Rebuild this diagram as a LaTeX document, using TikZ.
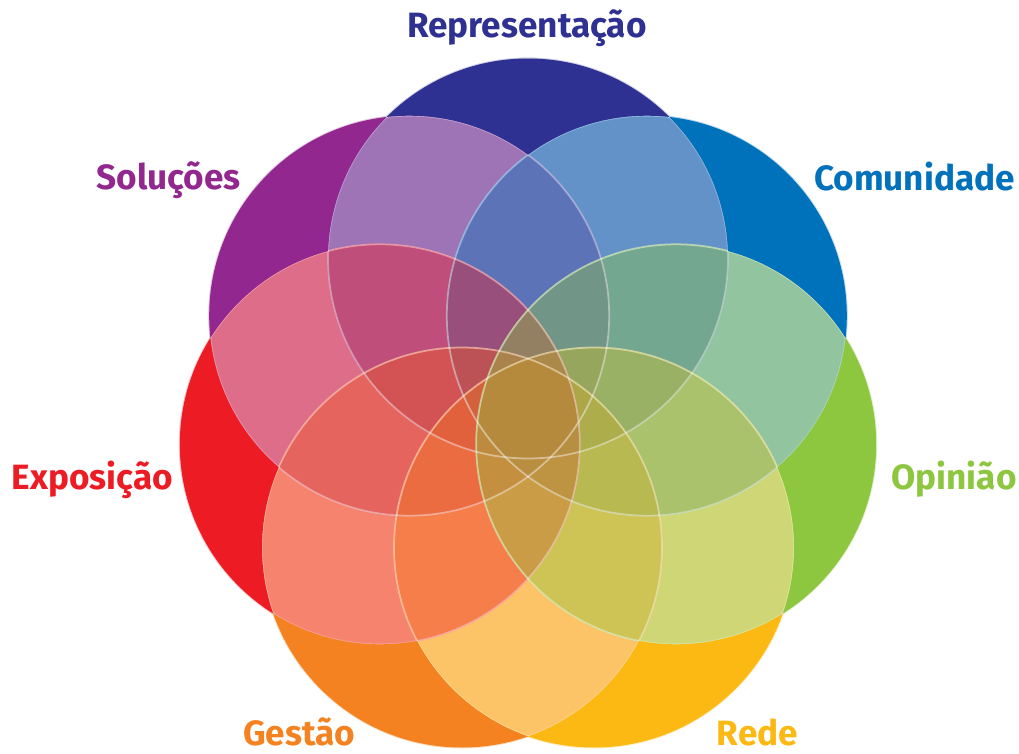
\documentclass[tikz,border=0pt]{standalone}
\usepackage{fontspec}
\setmainfont{Fira Sans}
\definecolor{c-rep}{HTML}{2E3192}
\definecolor{c-com}{HTML}{0072BC}
\definecolor{c-opi}{HTML}{8DC63F}
\definecolor{c-red}{HTML}{FDB913}
\definecolor{c-ges}{HTML}{F58220}
\definecolor{c-exp}{HTML}{ED1C24}
\definecolor{c-sol}{HTML}{92278F}

\begin{document}
\begin{tikzpicture}[x=0.02cm, y=-0.02cm]
\tikzset{cercle/.style={fill opacity=0.41, draw=white, draw opacity=0.45, line width=1pt},
  etiquette/.style={anchor=base, inner sep=0pt, font=\bfseries\fontsize{20}{22}\selectfont}}
\useasboundingbox (0,0) rectangle (1019,754);
\coordinate (rep) at (528,258.5);
\coordinate (com) at (646.8,315.7);
\coordinate (opi) at (676.2,444.3);
\coordinate (red) at (594.0,547.5);
\coordinate (ges) at (462.0,547.5);
\coordinate (exp) at (379.8,444.3);
\coordinate (sol) at (409.2,315.7);
% translucent discs, then their rims
\foreach \k in {rep,sol,com,ges,red,exp,opi}
  \fill[cercle, c-\k] (\k) circle [radius=200];
\foreach \k in {rep,sol,com,ges,red,exp,opi}
  \draw[cercle, fill opacity=0] (\k) circle [radius=200];
% outer petals in full colour
\foreach \k/\a/\b/\c/\d/\e/\f in {rep/com/opi/red/ges/exp/sol, com/opi/red/ges/exp/sol/rep,
    opi/red/ges/exp/sol/rep/com, red/ges/exp/sol/rep/com/opi, ges/exp/sol/rep/com/opi/red,
    exp/sol/rep/com/opi/red/ges, sol/rep/com/opi/red/ges/exp}{
  \begin{scope}[even odd rule]
    \foreach \j in {\a,\b,\c,\d,\e,\f}
      \clip (-50,-50) rectangle (1070,810) (\j) circle [radius=200];
    \fill[c-\k] (\k) circle [radius=200];
  \end{scope}
}
\node[etiquette, text=c-rep] (L1) at (527,37) {Representação};
\node[etiquette, text=c-com] (L2) at (914.5,190) {Comunidade};
\node[etiquette, text=c-opi] (L3) at (954,489) {Opinião};
\node[etiquette, text=c-red] (L4) at (757.5,745) {Rede};
\node[etiquette, text=c-ges] (L5) at (299,745) {Gestão};
\node[etiquette, text=c-exp] (L6) at (92.5,489) {Exposição};
\node[etiquette, text=c-sol] (L7) at (168.5,189) {Soluções};
\end{tikzpicture}
\end{document}
